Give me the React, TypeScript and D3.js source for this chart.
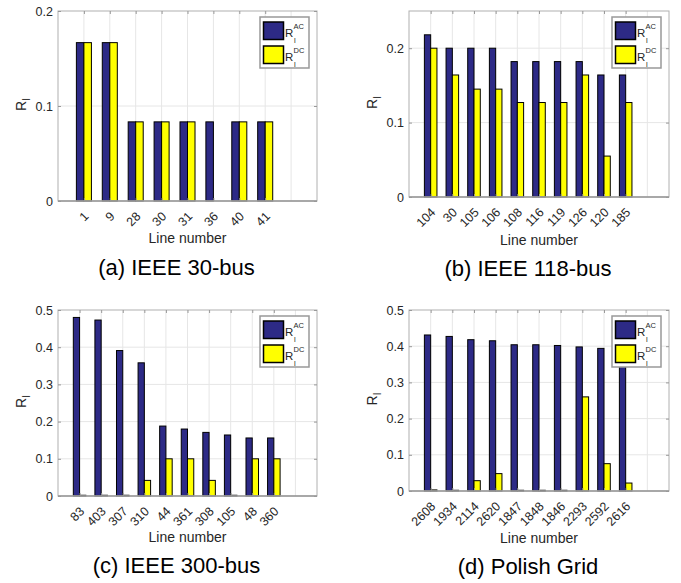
import { useEffect, useRef } from "react"
import * as d3 from "d3"

// (a) IEEE 30-bus
const linesA = ["1", "9", "28", "30", "31", "36", "40", "41"]
const acA = [0.1667, 0.1667, 0.0833, 0.0833, 0.0833, 0.0833, 0.0833, 0.0833]
const dcA = [0.1667, 0.1667, 0.0833, 0.0833, 0.0833, 0, 0.0833, 0.0833]

// (b) IEEE 118-bus
const linesB = ["104", "30", "105", "106", "108", "116", "119", "126", "120", "185"]
const acB = [0.218, 0.2, 0.2, 0.2, 0.182, 0.182, 0.182, 0.182, 0.164, 0.164]
const dcB = [0.2, 0.164, 0.145, 0.145, 0.127, 0.127, 0.127, 0.164, 0.055, 0.127]

// (c) IEEE 300-bus
const linesC = ["83", "403", "307", "310", "44", "361", "308", "105", "48", "360"]
const acC = [0.48, 0.473, 0.391, 0.358, 0.188, 0.18, 0.171, 0.164, 0.156, 0.156]
const dcC = [0.002, 0.002, 0.002, 0.042, 0.1, 0.1, 0.042, 0.002, 0.1, 0.1]

// (d) Polish Grid
const linesD = ["2608", "1934", "2114", "2620", "1847", "1848", "1846", "2293", "2592", "2616"]
const acD = [0.431, 0.427, 0.418, 0.415, 0.404, 0.404, 0.402, 0.398, 0.394, 0.392]
const dcD = [0.003, 0.002, 0.0285, 0.048, 0.002, 0.002, 0.002, 0.26, 0.0755, 0.022]

const ticksLow = [0, 0.1, 0.2]
const ticksHigh = [0, 0.1, 0.2, 0.3, 0.4, 0.5]

const AC_COLOR = "#2d2a86"
const DC_COLOR = "#ffff00"
const FONT = "'Liberation Sans', Arial, Helvetica, sans-serif"

type Panel = {
  title: string
  lines: string[]
  ac: number[]
  dc: number[]
  xMax: number
  yMax: number
  yTicks: number[]
  left: number
  right: number
  top: number
  bottom: number
  titleY: number
  labelY: number
}

const panels: Panel[] = [
  { title: "(a) IEEE 30-bus", lines: linesA, ac: acA, dc: dcA, xMax: 10, yMax: 0.2, yTicks: ticksLow,
    left: 58, right: 317, top: 11, bottom: 201, titleY: 275, labelY: 243 },
  { title: "(b) IEEE 118-bus", lines: linesB, ac: acB, dc: dcB, xMax: 12, yMax: 0.25, yTicks: ticksLow,
    left: 409, right: 669, top: 11, bottom: 197, titleY: 276, labelY: 245 },
  { title: "(c) IEEE 300-bus", lines: linesC, ac: acC, dc: dcC, xMax: 12, yMax: 0.5, yTicks: ticksHigh,
    left: 58, right: 317, top: 310, bottom: 496, titleY: 573, labelY: 542 },
  { title: "(d) Polish Grid", lines: linesD, ac: acD, dc: dcD, xMax: 12, yMax: 0.5, yTicks: ticksHigh,
    left: 409, right: 669, top: 310, bottom: 491, titleY: 574, labelY: 543 },
]

function drawPanel(root: d3.Selection<SVGSVGElement, unknown, null, undefined>, p: Panel) {
  const x = d3.scaleLinear().domain([0, p.xMax]).range([p.left, p.right])
  const y = d3.scaleLinear().domain([0, p.yMax]).range([p.bottom, p.top])
  const barW = x(0.29) - x(0)
  const g = root.append("g")

  g.append("rect")
    .attr("x", p.left)
    .attr("y", p.top)
    .attr("width", p.right - p.left)
    .attr("height", p.bottom - p.top)
    .attr("fill", "#fff")

  // grid
  g.append("g")
    .selectAll("line")
    .data(d3.range(1, p.xMax))
    .join("line")
    .attr("x1", (d) => x(d))
    .attr("x2", (d) => x(d))
    .attr("y1", p.top)
    .attr("y2", p.bottom)
    .attr("stroke", "#e6e6e6")
  g.append("g")
    .selectAll("line")
    .data(p.yTicks.filter((t) => t > 0 && t < p.yMax))
    .join("line")
    .attr("x1", p.left)
    .attr("x2", p.right)
    .attr("y1", (d) => y(d))
    .attr("y2", (d) => y(d))
    .attr("stroke", "#e6e6e6")

  const idx = d3.range(p.lines.length)

  // bars
  g.append("g")
    .selectAll("rect")
    .data(idx)
    .join("rect")
    .attr("x", (i) => x(i + 1) - barW)
    .attr("y", (i) => y(p.ac[i]))
    .attr("width", barW)
    .attr("height", (i) => y(0) - y(p.ac[i]))
    .attr("fill", AC_COLOR)
    .attr("stroke", "#000")
    .attr("stroke-width", 1)
  g.append("g")
    .selectAll("rect")
    .data(idx)
    .join("rect")
    .attr("x", (i) => x(i + 1))
    .attr("y", (i) => y(p.dc[i]))
    .attr("width", barW)
    .attr("height", (i) => y(0) - y(p.dc[i]))
    .attr("fill", DC_COLOR)
    .attr("stroke", "#000")
    .attr("stroke-width", 1)

  // frame
  g.append("rect")
    .attr("x", p.left)
    .attr("y", p.top)
    .attr("width", p.right - p.left)
    .attr("height", p.bottom - p.top)
    .attr("fill", "none")
    .attr("stroke", "#b0b0b0")
  g.append("line")
    .attr("x1", p.left)
    .attr("x2", p.right)
    .attr("y1", p.bottom)
    .attr("y2", p.bottom)
    .attr("stroke", "#999")
    .attr("stroke-width", 1.5)

  const styleAxis = (s: d3.Selection<SVGGElement, unknown, null, undefined>) => {
    s.select(".domain").remove()
    s.selectAll("line").attr("stroke", "#999")
    s.selectAll("text").attr("fill", "#262626").attr("font-family", FONT).attr("font-size", 12.5)
  }

  const fmt = (d: d3.NumberValue) => (+d === 0 ? "0" : d3.format(".1f")(+d))

  g.append("g")
    .attr("transform", `translate(${p.left},0)`)
    .call(d3.axisLeft(y).tickValues(p.yTicks).tickFormat(fmt).tickSizeInner(-3).tickSizeOuter(0).tickPadding(5))
    .call(styleAxis)
  g.append("g")
    .attr("transform", `translate(${p.right},0)`)
    .call(d3.axisRight(y).tickValues(p.yTicks).tickFormat(() => "").tickSizeInner(-3).tickSizeOuter(0))
    .call(styleAxis)

  const xTicks = d3.range(1, p.lines.length + 1)
  g.append("g")
    .attr("transform", `translate(0,${p.bottom})`)
    .call(
      d3.axisBottom(x).tickValues(xTicks).tickFormat((d) => p.lines[+d - 1]).tickSizeInner(-3).tickSizeOuter(0)
    )
    .call(styleAxis)
    .call((s) =>
      s
        .selectAll("text")
        .attr("x", 2)
        .attr("y", 13)
        .attr("dy", "0.35em")
        .attr("text-anchor", "end")
        .attr("transform", "rotate(-45, 2, 13)")
    )
  g.append("g")
    .attr("transform", `translate(0,${p.top})`)
    .call(d3.axisTop(x).tickValues(xTicks).tickFormat(() => "").tickSizeInner(-3).tickSizeOuter(0))
    .call(styleAxis)

  // axis labels
  const cx = (p.left + p.right) / 2
  g.append("text")
    .text("Line number")
    .attr("x", cx)
    .attr("y", p.labelY)
    .attr("text-anchor", "middle")
    .attr("font-family", FONT)
    .attr("font-size", 14)
    .attr("fill", "#262626")

  const cy = (p.top + p.bottom) / 2
  const yl = g.append("g").attr("transform", `translate(${p.left - 32},${cy}) rotate(-90)`)
  yl.append("text")
    .text("R")
    .attr("x", -5)
    .attr("y", 0)
    .attr("font-family", FONT)
    .attr("font-size", 14)
    .attr("fill", "#262626")
  yl.append("text")
    .text("l")
    .attr("x", 5.5)
    .attr("y", 4)
    .attr("font-family", FONT)
    .attr("font-size", 10)
    .attr("fill", "#262626")

  // title
  g.append("text")
    .text(p.title)
    .attr("x", cx - 11)
    .attr("y", p.titleY)
    .attr("text-anchor", "middle")
    .attr("font-family", FONT)
    .attr("font-size", 22)
    .attr("fill", "#000")

  // legend
  const lg = g.append("g").attr("transform", `translate(${p.right - 57},${p.top + 6})`)
  lg.append("rect")
    .attr("width", 49)
    .attr("height", 51)
    .attr("fill", "#fff")
    .attr("stroke", "#999")
    .attr("stroke-width", 1.5)
  const entries = [
    { sup: "AC", color: AC_COLOR, dy: 5 },
    { sup: "DC", color: DC_COLOR, dy: 29 },
  ]
  entries.forEach((e) => {
    lg.append("rect")
      .attr("x", 3.5)
      .attr("y", e.dy)
      .attr("width", 20)
      .attr("height", 17.5)
      .attr("fill", e.color)
      .attr("stroke", "#000")
      .attr("stroke-width", 1.5)
    lg.append("text")
      .text("R")
      .attr("x", 25)
      .attr("y", e.dy + 15)
      .attr("font-family", FONT)
      .attr("font-size", 11.5)
      .attr("fill", "#262626")
    lg.append("text")
      .text(e.sup)
      .attr("x", 33.5)
      .attr("y", e.dy + 7)
      .attr("font-family", FONT)
      .attr("font-size", 7.5)
      .attr("fill", "#262626")
    lg.append("text")
      .text("l")
      .attr("x", 34)
      .attr("y", e.dy + 21)
      .attr("font-family", FONT)
      .attr("font-size", 7.5)
      .attr("fill", "#262626")
  })
}

export default function App() {
  const svgRef = useRef<SVGSVGElement | null>(null)

  useEffect(() => {
    document.body.style.margin = "0"
    if (!svgRef.current) return
    const svg = d3.select(svgRef.current)
    svg.selectAll("*").remove()
    panels.forEach((p) => drawPanel(svg, p))
  }, [])

  return <svg ref={svgRef} width={681} height={583} style={{ display: "block", background: "#fff" }} />
}
